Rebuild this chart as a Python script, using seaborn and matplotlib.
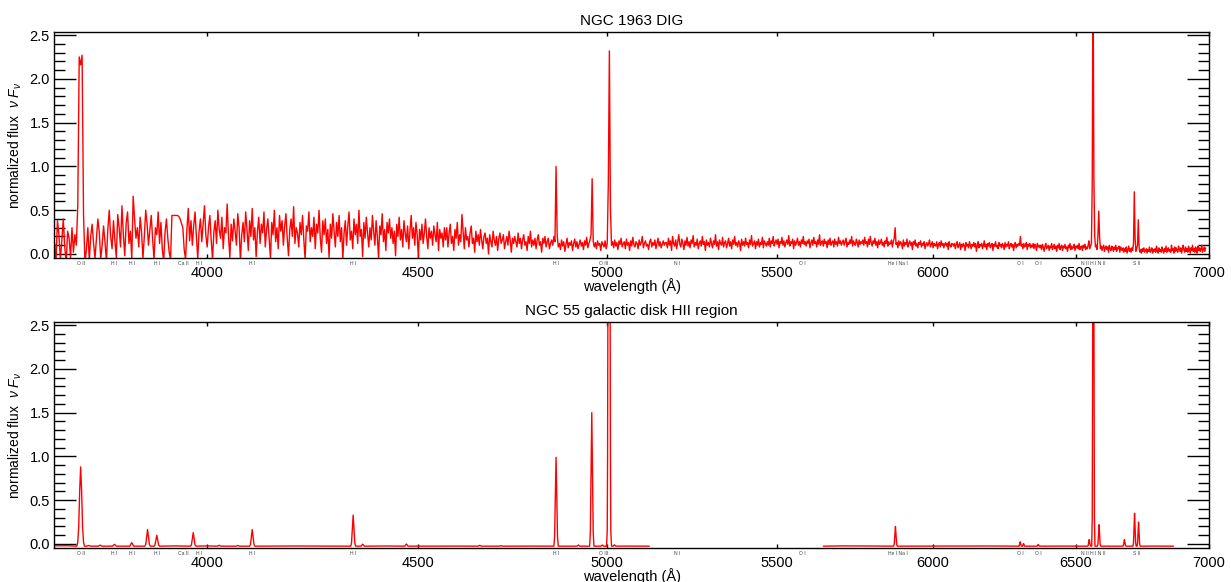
import numpy as np
import pandas as pd
import matplotlib
matplotlib.use("Agg")
import matplotlib.pyplot as plt
import matplotlib.ticker as mticker
import matplotlib.transforms as mtransforms
import seaborn as sns

# ---------------------------------------------------------------------------
# NGC 1963 DIG spectrum: regular wavelength sampling, flux in units of 0.01
# ---------------------------------------------------------------------------
DIG_START = 3670.0   # Å
DIG_STEP = 3.0       # Å per sample

dig_3670 = [30, 12, -8, 38, 22, -6, 15, 40, 8, -10,
            26, 18, -4, 30, 2, 22, 10, 55, 225, 216,
            227, 45, -10, 5, 30, -8, 20, 34, 12, -5,
            18, 40, 25, -6, 10, 32, 14, -8, 28, 50,
            20, 6, 38, 15, -4, 45, 30, 8, 55, 22,
            -2, 35, 48, 12, 26, -6, 66, 40, 18, 30,
            8, 42, 25, -5, 20, 50, 34, 10, 28, 44,
            16, -6, 30, 22, 48, 12, 36, 5, -8, 25,
            40, 18, 2, -6, 44, 44, 44, 44, 44, 43,
            40, 35, 30, 5, -6, 28, 52, 15, 38, 10]
dig_3970 = [32, 48, 20, -5, 26, 40, 14, 35, 55, 22,
            8, 30, 44, 16, -6, 25, 38, 12, 50, 28,
            18, 42, 6, 30, 24, 57, 20, -4, 34, 15,
            40, 26, 10, 46, 30, -8, 22, 36, 14, 48,
            28, 4, 38, 20, 52, 16, 30, -3, 26, 42,
            12, 34, 24, 48, 8, 28, 40, 18, -5, 36,
            22, 50, 14, 30, 6, 44, 26, 38, 10, 32,
            46, 18, -2, 28, 40, 20, 54, 12, 30, 24,
            8, 36, 22, 44, 16, -6, 32, 26, 48, 14,
            30, 20, 42, 6, 34, 24, 50, 18, 2, 38]
dig_4270 = [22, 40, 12, 28, -4, 34, 18, 46, 26, 8,
            36, 20, 44, 14, 30, -6, 24, 38, 10, 32,
            48, 16, 26, 6, 40, 22, 34, 12, 50, 20,
            28, -3, 36, 18, 42, 24, 8, 30, 16, 44,
            26, 10, 38, 20, -5, 32, 22, 46, 14, 28,
            4, 36, 24, 40, 18, 30, 12, 26, -2, 34,
            20, 42, 16, 28, 8, 38, 24, 14, 32, 6,
            26, 44, 18, 30, 10, 36, 22, -4, 28, 16,
            34, 12, 24, 40, 20, 6, 30, 18, 26, 10,
            32, 22, 14, 36, 4, 28, 18, 24, 8, 30]
dig_4570 = [16, 30, 8, 24, 34, 12, 20, 4, 28, 18,
            36, 10, 22, 14, 45, 26, 6, 30, 16, 20,
            8, 24, 32, 12, 18, 2, 26, 14, 22, 10,
            28, 16, 6, 20, 24, 12, 18, 0, 22, 14,
            8, 26, 16, 10, 20, 4, 18, 24, 12, 16,
            22, 6, 14, 20, 10, 26, 16, 2, 18, 12,
            20, 14, 8, 24, 12, 18, 6, 16, 22, 10,
            14, 4, 20, 12, 26, 8, 16, 10, 18, 6,
            16, 22, 10, 14, 2, 18, 12, 20, 8, 14,
            18, 6, 12, 16, 10, 20, 14, 100, 22, 8]
dig_4870 = [12, 5, 16, 9, 14, 3, 11, 18, 7, 13,
            10, 15, 4, 12, 17, 8, 14, 6, 11, 16,
            9, 13, 5, 15, 10, 19, 7, 12, 16, 22,
            86, 14, 8, 13, 6, 15, 10, 12, 4, 14,
            11, 8, 15, 6, 12, 80, 232, 50, 10, 14,
            7, 16, 9, 13, 5, 15, 11, 18, 8, 12,
            14, 6, 17, 10, 13, 4, 15, 9, 19, 11,
            8, 14, 12, 6, 16, 10, 13, 20, 7, 12,
            15, 9, 11, 5, 14, 17, 8, 13, 10, 16,
            6, 12, 18, 9, 14, 7, 11, 15, 10, 13]
dig_5170 = [13, 7, 18, 10, 15, 4, 20, 12, 9, 16,
            6, 14, 22, 11, 8, 17, 12, 5, 15, 10,
            19, 9, 14, 7, 16, 12, 21, 8, 13, 10,
            17, 6, 12, 15, 9, 20, 11, 14, 4, 16,
            10, 13, 8, 18, 12, 7, 15, 11, 22, 9,
            14, 5, 16, 12, 10, 19, 8, 13, 15, 7,
            12, 18, 9, 14, 6, 16, 11, 20, 10, 13,
            8, 15, 12, 4, 17, 10, 14, 9, 18, 11,
            13, 7, 16, 11, 21, 9, 12, 15, 6, 14,
            10, 17, 8, 13, 11, 19, 7, 15, 12, 9]
dig_5470 = [14, 10, 18, 8, 15, 12, 20, 9, 13, 16,
            11, 17, 7, 14, 12, 19, 10, 15, 8, 13,
            16, 11, 21, 9, 14, 12, 17, 6, 15, 10,
            13, 18, 10, 14, 8, 16, 12, 20, 11, 14,
            9, 15, 12, 17, 7, 13, 16, 10, 19, 12,
            14, 8, 16, 11, 22, 10, 13, 15, 9, 17,
            12, 14, 7, 16, 11, 18, 10, 13, 15, 8,
            17, 11, 14, 9, 19, 12, 15, 10, 13, 16,
            10, 14, 18, 8, 13, 11, 16, 12, 20, 9,
            15, 12, 10, 17, 13, 8, 16, 11, 14, 12]
dig_5770 = [16, 10, 19, 12, 14, 8, 17, 11, 20, 13,
            9, 15, 12, 18, 10, 14, 7, 16, 11, 13,
            17, 10, 13, 8, 15, 12, 19, 9, 14, 11,
            12, 16, 8, 14, 18, 30, 11, 13, 7, 15,
            10, 14, 12, 6, 16, 9, 13, 11, 17, 8,
            12, 15, 10, 13, 5, 14, 11, 16, 9, 12,
            7, 13, 11, 15, 8, 12, 10, 14, 6, 11,
            13, 9, 12, 16, 8, 11, 14, 7, 12, 10,
            9, 14, 6, 11, 13, 8, 15, 10, 12, 7,
            11, 13, 9, 12, 5, 14, 10, 8, 12, 11]
dig_6070 = [9, 12, 6, 11, 14, 7, 10, 13, 5, 11,
            8, 12, 10, 4, 13, 9, 11, 7, 14, 10,
            6, 11, 9, 13, 8, 12, 3, 10, 14, 7,
            11, 9, 12, 6, 10, 15, 8, 11, 5, 12,
            9, 13, 7, 10, 12, 4, 11, 9, 14, 8,
            10, 6, 13, 9, 11, 7, 12, 10, 5, 13,
            8, 11, 9, 14, 6, 10, 12, 8, 11, 4,
            10, 13, 7, 11, 9, 12, 10, 20, 9, 11,
            6, 12, 8, 10, 13, 5, 11, 9, 12, 7,
            10, 8, 12, 6, 11, 9, 4, 12, 8, 10]
dig_6370 = [7, 10, 5, 11, 8, 3, 9, 12, 6, 8,
            10, 4, 9, 7, 12, 5, 8, 11, 6, 9,
            3, 10, 7, 12, 5, 8, 10, 4, 9, 7,
            11, 6, 8, 3, 10, 7, 12, 5, 9, 6,
            8, 11, 4, 9, 7, 10, 6, 12, 5, 8,
            9, 4, 10, 7, 11, 5, 8, 6, 10, 15,
            6, 9, 12, 80, 350, 90, 20, 8, 10, 5,
            22, 49, 20, 6, 9, 4, 8, 10, 3, 7,
            9, 5, 8, 2, 10, 6, 4, 9, 7, 3,
            8, 5, 10, 3, 7, 6, 9, 2, 8, 5]
dig_6670 = [4, 7, 2, 6, 3, 8, 1, 5, 9, 3,
            6, 2, 7, 4, 12, 71, 18, 3, 6, 10,
            39, 8, 2, 5, 1, 6, 3, 7, 2, 4,
            6, 1, 5, 3, 8, 2, 4, 7, 1, 5,
            3, 6, 2, 9, 4, 1, 7, 3, 5, 2,
            8, 4, 1, 6, 3, 9, 2, 5, 7, 3,
            5, 2, 10, 4, 6, 1, 8, 3, 7, 4,
            2, 9, 5, 3, 7, 1, 6, 10, 4, 2,
            8, 3, 6, 2, 9, 5, 1, 7, 4, 10,
            3, 6, 2, 8, 5, 1, 9, 4, 7, 3,
            6, 10, 2, 5, 8, 3, 7]

# ---------------------------------------------------------------------------
# NGC 55 HII region spectrum: two observed wavelength ranges
# ---------------------------------------------------------------------------
hii_blue_wave = [3672, 3700, 3719, 3721, 3723, 3725, 3727, 3729, 3731, 3733, 3735,
                 3740, 3742, 3744, 3746, 3748,
                 3764, 3766, 3768, 3770, 3772,
                 3794, 3796, 3798, 3800, 3802,
                 3831, 3833, 3835, 3837, 3839,
                 3863, 3865, 3867, 3869, 3871, 3873, 3875,
                 3883, 3885, 3887, 3889, 3891, 3893, 3895,
                 3930, 3963, 3965, 3967, 3969, 3971, 3973, 3975,
                 4000, 4023, 4025, 4027, 4029, 4031,
                 4065, 4067, 4069, 4071, 4073,
                 4096, 4098, 4100, 4102, 4104, 4106, 4108,
                 4200, 4334, 4336, 4338, 4340, 4342, 4344, 4346,
                 4359, 4361, 4363, 4365, 4367,
                 4420, 4467, 4469, 4471, 4473, 4475,
                 4600, 4654, 4656, 4658, 4660, 4662,
                 4709, 4711, 4713, 4715, 4717,
                 4800, 4855, 4857, 4859, 4861, 4863, 4865, 4867,
                 4918, 4920, 4922, 4924, 4926,
                 4953, 4955, 4957, 4959, 4961, 4963, 4965,
                 4984, 4986, 4988, 4990, 4992,
                 5000, 5002, 5003, 5004, 5007, 5010, 5011, 5012, 5014,
                 5018, 5020, 5022, 5024, 5026,
                 5060, 5121]
hii_blue_flux = [-0.020, -0.020, -0.025, 0.020, 0.200, 0.610, 0.880, 0.610, 0.200, 0.020, -0.025,
                 -0.025, -0.021, -0.017, -0.021, -0.025,
                 -0.025, -0.019, -0.013, -0.019, -0.025,
                 -0.025, -0.014, -0.005, -0.014, -0.025,
                 -0.025, -0.002, 0.015, -0.002, -0.025,
                 -0.025, -0.006, 0.080, 0.165, 0.080, -0.006, -0.025,
                 -0.025, -0.012, 0.044, 0.100, 0.044, -0.012, -0.025,
                 -0.022, -0.025, -0.010, 0.060, 0.130, 0.060, -0.010, -0.025,
                 -0.022, -0.025, -0.020, -0.015, -0.020, -0.025,
                 -0.025, -0.021, -0.017, -0.021, -0.025,
                 -0.025, -0.006, 0.080, 0.165, 0.080, -0.006, -0.025,
                 -0.023, -0.025, 0.010, 0.170, 0.330, 0.170, 0.010, -0.025,
                 -0.025, -0.014, -0.002, -0.014, -0.025,
                 -0.023, -0.025, -0.012, 0.000, -0.012, -0.025,
                 -0.024, -0.025, -0.020, -0.015, -0.020, -0.025,
                 -0.025, -0.022, -0.019, -0.022, -0.025,
                 -0.024, -0.025, 0.077, 0.530, 0.990, 0.530, 0.077, -0.025,
                 -0.025, -0.018, -0.012, -0.018, -0.025,
                 -0.025, 0.128, 0.810, 1.500, 0.810, 0.128, -0.025,
                 -0.025, -0.018, -0.012, -0.018, -0.025,
                 -0.025, 0.150, 1.000, 3.000, 4.500, 3.000, 1.000, 0.150, -0.025,
                 -0.025, -0.018, -0.010, -0.018, -0.025,
                 -0.024, -0.025]

hii_red_wave = [5644, 5700, 5800,
                5870, 5872, 5874, 5876, 5878, 5880, 5882,
                6000, 6200,
                6296, 6298, 6300, 6302, 6304,
                6308, 6310, 6312, 6314, 6316,
                6360, 6362, 6364, 6366, 6368,
                6450,
                6542, 6544, 6546, 6548, 6550, 6552, 6554,
                6557, 6559, 6560, 6561, 6563, 6565, 6566, 6567, 6569,
                6578, 6580, 6582, 6584, 6586, 6588, 6590,
                6672, 6674, 6676, 6678, 6680, 6682, 6684,
                6710, 6712, 6714, 6716, 6718, 6720, 6722,
                6725, 6727, 6729, 6731, 6733, 6735, 6737,
                6800, 6864]
hii_red_flux = [-0.025, -0.022, -0.023,
                -0.025, -0.002, 0.099, 0.200, 0.099, -0.002, -0.025,
                -0.024, -0.023,
                -0.025, 0.000, 0.025, 0.000, -0.025,
                -0.025, -0.010, 0.005, -0.010, -0.025,
                -0.025, -0.015, -0.005, -0.015, -0.025,
                -0.024,
                -0.025, -0.018, 0.016, 0.050, 0.016, -0.018, -0.025,
                -0.025, 0.300, 1.500, 3.000, 3.600, 3.000, 1.500, 0.300, -0.025,
                -0.025, 0.000, 0.110, 0.220, 0.110, 0.000, -0.025,
                -0.025, -0.018, 0.016, 0.050, 0.016, -0.018, -0.025,
                -0.025, 0.013, 0.180, 0.350, 0.180, 0.013, -0.025,
                -0.025, 0.003, 0.126, 0.250, 0.126, 0.003, -0.025,
                -0.024, -0.025]

# Line identifications written under each panel (wavelength in Å, label)
line_waves = [3727, 3798, 3835, 3889, 3946, 3982, 4102, 4340, 4861, 4993,
              5200, 5577, 5885, 6300, 6364, 6563, 6724]
line_names = ["O II", "H I", "H I", "H I", "Ca II", "H I", "H I", "H I", "H I", "O III",
              "N I", "O I", "He I Na I", "O I", "O I", "N II H I N II", "S II"]

x_ticks = [4000, 4500, 5000, 5500, 6000, 6500, 7000]
titles = ["NGC 1963 DIG", "NGC 55 galactic disk HII region"]

# ---------------------------------------------------------------------------
dig_flux = np.array(dig_3670 + dig_3970 + dig_4270 + dig_4570 + dig_4870 + dig_5170
                    + dig_5470 + dig_5770 + dig_6070 + dig_6370 + dig_6670) / 100.0
dig_wave = DIG_START + DIG_STEP * np.arange(dig_flux.size)
dig_df = pd.DataFrame({"wave": dig_wave, "flux": dig_flux, "seg": 0})

hii_df = pd.concat([
    pd.DataFrame({"wave": hii_blue_wave, "flux": hii_blue_flux, "seg": 0}),
    pd.DataFrame({"wave": hii_red_wave, "flux": hii_red_flux, "seg": 1}),
], ignore_index=True)

sns.set_style("ticks")
plt.rcParams["font.family"] = ["Liberation Sans", "DejaVu Sans"]
plt.rcParams["mathtext.fontset"] = "custom"
plt.rcParams["mathtext.rm"] = "Liberation Sans"
plt.rcParams["mathtext.it"] = "Liberation Sans:italic"
for key in ["text.color", "axes.labelcolor", "xtick.color", "ytick.color",
            "xtick.labelcolor", "ytick.labelcolor", "axes.edgecolor"]:
    plt.rcParams[key] = "black"

fig = plt.figure(figsize=(12.31, 5.82), dpi=100)
ax_top = fig.add_axes([0.0439, 0.5567, 0.9386, 0.3883])
ax_bot = fig.add_axes([0.0439, 0.0584, 0.9386, 0.3883])

for ax, df, title in [(ax_top, dig_df, titles[0]), (ax_bot, hii_df, titles[1])]:
    ax.set_xscale("log")
    sns.lineplot(data=df, x="wave", y="flux", units="seg", estimator=None,
                 sort=False, color="#ff0000", linewidth=1.0, ax=ax, legend=False)
    ax.set_xlim(3672, 7003)
    ax.set_ylim(-0.046, 2.535)

    ax.xaxis.set_major_locator(mticker.FixedLocator(x_ticks))
    ax.xaxis.set_major_formatter(mticker.FixedFormatter([str(t) for t in x_ticks]))
    ax.xaxis.set_minor_locator(mticker.NullLocator())
    ax.yaxis.set_major_locator(mticker.MultipleLocator(0.5))
    ax.yaxis.set_minor_locator(mticker.MultipleLocator(0.1))
    ax.yaxis.set_major_formatter(mticker.FormatStrFormatter("%.1f"))

    ax.tick_params(axis="y", which="major", direction="in", length=16, width=1.0,
                   left=True, right=True, labelsize=10.5, pad=3)
    ax.tick_params(axis="y", which="minor", direction="in", length=8, width=1.0,
                   left=True, right=True)
    ax.tick_params(axis="x", which="major", direction="in", length=3, width=1.0,
                   bottom=True, top=True, labelsize=10.5, pad=5.5)
    for sp in ax.spines.values():
        sp.set_linewidth(1.0)

    ax.set_title(title, fontsize=11, pad=5)
    ax.set_xlabel("wavelength (Å)", fontsize=10.5, labelpad=-1)
    ax.set_ylabel(r"normalized flux  $\nu\ F_\nu$", fontsize=10, labelpad=4)

    trans = mtransforms.blended_transform_factory(ax.transData, ax.transAxes)
    for w, name in zip(line_waves, line_names):
        ax.text(w, -0.024, name, transform=trans, fontsize=3.6, color="#444444",
                ha="center", va="center", clip_on=False)

fig.savefig("out.png", dpi=100, facecolor="white")
